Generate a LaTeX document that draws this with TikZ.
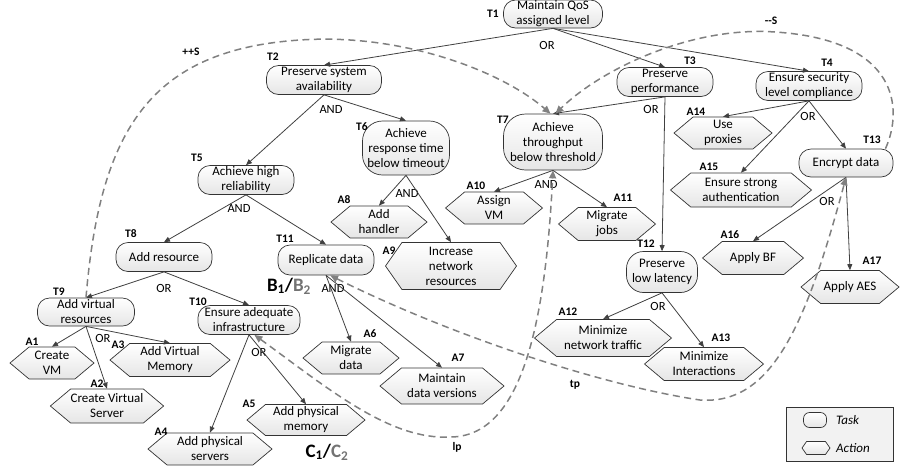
\documentclass[tikz,border=0pt]{standalone}
\usepackage{fontspec}
\setmainfont{Carlito}
\usepackage{xcolor}
\usetikzlibrary{shapes.symbols,arrows.meta}

\begin{document}
\begin{tikzpicture}[x=1pt,y=1pt]
	\tikzstyle{every node}+=[inner sep=0pt]
	\tikzstyle{task}=[draw=black!80,line width=0.7pt,rectangle,rounded corners=12pt,top color=white,bottom color=black!10,align=center,font=\fontsize{13}{15}\selectfont]
	\tikzstyle{act}=[draw=black!80,line width=0.7pt,signal,signal to=east and west,signal pointer angle=80,top color=white,bottom color=black!10,align=center,font=\fontsize{13}{15}\selectfont]
	\tikzstyle{lbl}=[font=\fontsize{11.5}{11.5}\selectfont\bfseries]
	\tikzstyle{op}=[font=\fontsize{12.5}{12.5}\selectfont]
	\tikzstyle{dec}=[draw=black!75,line width=0.8pt,>={Triangle[length=6pt,width=5pt]}]
	\tikzstyle{infl}=[draw=black!50,line width=1.5pt,dash pattern=on 7pt off 4.5pt,>={Triangle[length=8pt,width=7pt]}]
	\useasboundingbox (0,0) rectangle (901,-467);
	\node[task,minimum width=99,minimum height=28] (t1) at (553,-14) {Maintain QoS\\assigned level};
	\node[task,minimum width=115,minimum height=29] (t2) at (324,-80) {Preserve system\\availability};
	\node[task,minimum width=96,minimum height=29] (t3) at (665,-82) {Preserve\\performance};
	\node[task,minimum width=106,minimum height=29] (t4) at (809,-86) {Ensure security\\level compliance};
	\node[task,minimum width=96,minimum height=29] (t5) at (246,-180) {Achieve high\\reliability};
	\node[task,minimum width=87,minimum height=54,rounded corners=20pt] (t6) at (406,-148) {Achieve\\response time\\below timeout};
	\node[task,minimum width=99,minimum height=56,rounded corners=22pt] (t7) at (553,-142) {Achieve\\throughput\\below threshold};
	\node[task,minimum width=96,minimum height=29] (t8) at (164,-257) {Add resource};
	\node[task,minimum width=97,minimum height=28] (t9) at (86,-312) {Add virtual\\resources};
	\node[task,minimum width=102,minimum height=29] (t10) at (249,-320) {Ensure adequate\\infrastructure};
	\node[task,minimum width=96,minimum height=30] (t11) at (326,-260) {Replicate data};
	\node[task,minimum width=71,minimum height=41,rounded corners=17pt] (t12) at (662,-272) {Preserve\\low latency};
	\node[task,minimum width=94,minimum height=28] (t13) at (846,-163) {Encrypt data};
	\node[act,minimum width=84,minimum height=32] (a1) at (52,-363) {Create\\VM};
	\node[act,minimum width=110,minimum height=34] (a2) at (107,-406) {Create Virtual\\Server};
	\node[act,minimum width=120,minimum height=33] (a3) at (170,-360) {Add Virtual\\Memory};
	\node[act,minimum width=124,minimum height=32] (a4) at (210,-449) {Add physical\\servers};
	\node[act,minimum width=118,minimum height=31] (a5) at (306,-420) {Add physical\\memory};
	\node[act,minimum width=96,minimum height=32] (a6) at (351,-358) {Migrate\\data};
	\node[act,minimum width=124,minimum height=36] (a7) at (442,-386) {Maintain\\data versions};
	\node[act,minimum width=96,minimum height=32] (a8) at (379,-222) {Add\\handler};
	\node[act,minimum width=131,minimum height=47,signal pointer angle=110] (a9) at (451,-266) {Increase\\network\\resources};
	\node[act,minimum width=97,minimum height=32] (a10) at (494,-208) {Assign\\VM};
	\node[act,minimum width=97,minimum height=33] (a11) at (607,-224) {Migrate\\jobs};
	\node[act,minimum width=137,minimum height=37] (a12) at (603,-338) {Minimize\\network traffic};
	\node[act,minimum width=119,minimum height=33] (a13) at (704,-364) {Minimize\\Interactions};
	\node[act,minimum width=98,minimum height=32] (a14) at (723,-133) {Use\\proxies};
	\node[act,minimum width=141,minimum height=34] (a15) at (741,-190) {Ensure strong\\authentication};
	\node[act,minimum width=101,minimum height=33] (a16) at (753,-258) {Apply BF};
	\node[act,minimum width=98,minimum height=33] (a17) at (850,-287) {Apply AES};
	\node[lbl] (lt1) at (493,-14) {T1};
	\node[lbl] (lt2) at (273,-57) {T2};
	\node[lbl] (lt3) at (690,-61) {T3};
	\node[lbl] (lt4) at (827,-63) {T4};
	\node[lbl] (lt5) at (197,-158) {T5};
	\node[lbl] (lt6) at (362,-127) {T6};
	\node[lbl] (lt7) at (503,-120) {T7};
	\node[lbl] (lt8) at (131,-234) {T8};
	\node[lbl] (lt9) at (59,-292) {T9};
	\node[lbl] (lt10) at (198,-302) {T10};
	\node[lbl] (lt11) at (285,-239) {T11};
	\node[lbl] (lt12) at (646,-244) {T12};
	\node[lbl] (lt13) at (872,-140) {T13};
	\node[lbl] (la1) at (32,-342) {A1};
	\node[lbl] (la2) at (97,-384) {A2};
	\node[lbl] (la3) at (118,-345) {A3};
	\node[lbl] (la4) at (161,-432) {A4};
	\node[lbl] (la5) at (249,-404) {A5};
	\node[lbl] (la6) at (370,-334) {A6};
	\node[lbl] (la7) at (458,-358) {A7};
	\node[lbl] (la8) at (344,-200) {A8};
	\node[lbl] (la9) at (389,-251) {A9};
	\node[lbl] (la10) at (476,-186) {A10};
	\node[lbl] (la11) at (623,-198) {A11};
	\node[lbl] (la12) at (568,-312) {A12};
	\node[lbl] (la13) at (721,-338) {A13};
	\node[lbl] (la14) at (696,-112) {A14};
	\node[lbl] (la15) at (709,-167) {A15};
	\node[lbl] (la16) at (730,-235) {A16};
	\node[lbl] (la17) at (872,-261) {A17};
	\node[op] (o1) at (547,-45) {OR};
	\node[op] (o2) at (331,-109) {AND};
	\node[op] (o3) at (651,-109) {OR};
	\node[op] (o4) at (808,-116) {OR};
	\node[op] (o5) at (239,-208) {AND};
	\node[op] (o6) at (407,-193) {AND};
	\node[op] (o7) at (546,-184) {AND};
	\node[op] (o8) at (164,-288) {OR};
	\node[op] (o9) at (103,-338) {OR};
	\node[op] (o10) at (259,-352) {OR};
	\node[op] (o11) at (333,-288) {AND};
	\node[op] (o12) at (658,-306) {OR};
	\node[op] (o13) at (827,-201) {OR};
	\draw[dec,->] (t1.south) -- (t2.north);
	\draw[dec,->] (t1.south) -- (t3.north);
	\draw[dec,->] (t1.south) -- (t4.north);
	\draw[dec,->] (t2.south) -- (t5.north);
	\draw[dec,->] (t2.south) -- (t6.north);
	\draw[dec,->] (t3.south) -- (t7.north);
	\draw[dec,->] (t3.south) -- (t12.north);
	\draw[dec,->] (t4.south) -- (a14.north);
	\draw[dec,->] (t4.south) -- (a15.north);
	\draw[dec,->] (t4.south) -- (t13.north);
	\draw[dec,->] (t5.south) -- (t8.north);
	\draw[dec,->] (t5.south) -- (t11.north);
	\draw[dec,->] (t6.south) -- (a8.north);
	\draw[dec,->] (t6.south) -- (a9.north);
	\draw[dec,->] (t7.south) -- (a10.north);
	\draw[dec,->] (t7.south) -- (a11.north);
	\draw[dec,->] (t8.south) -- (t9.north);
	\draw[dec,->] (t8.south) -- (t10.north);
	\draw[dec,->] (t9.south) -- (a1.north);
	\draw[dec,->] (t9.south) -- (a2.north);
	\draw[dec,->] (t9.south) -- (a3.north);
	\draw[dec,->] (t10.south) -- (a4.north);
	\draw[dec,->] (t10.south) -- (a5.north);
	\draw[dec,->] (t11.south) -- (a6.north);
	\draw[dec,->] (t11.south) -- (a7.north);
	\draw[dec,->] (t12.south) -- (a12.north);
	\draw[dec,->] (t12.south) -- (a13.north);
	\draw[dec,->] (t13.south) -- (a16.north);
	\draw[dec,->] (t13.south) -- (a17.north);
	\draw[infl,->] (t9.north) .. controls (100,-130) and (150,-50) .. (300,-40) .. controls (400,-33) and (500,-70) .. (t7.95);
	\draw[infl,->] (t13.20) .. controls (903,-110) and (900,-40) .. (775,-32) .. controls (690,-26) and (600,-70) .. (t7.85);
	\draw[infl,<->] (t10.-70) .. controls (330,-390) and (390,-440) .. (450,-437) .. controls (520,-437) and (545,-330) .. (t7.south);
	\draw[infl,<->] (t11.-75) .. controls (450,-335) and (600,-385) .. (700,-400) .. controls (770,-405) and (805,-330) .. (t13.south);
	\node[lbl] (lps) at (191,-52) {++S};
	\node[lbl] (lms) at (771,-21) {-{}-S};
	\node[lbl] (llp) at (457,-447) {lp};
	\node[lbl] (ltp) at (575,-385) {tp};
	\node[font=\fontsize{19}{19}\selectfont\bfseries] (bb) at (289,-286) {B\textsubscript{1}/\textcolor{black!55}{B\textsubscript{2}}};
	\node[font=\fontsize{19}{19}\selectfont\bfseries] (cc) at (327,-452) {C\textsubscript{1}/\textcolor{black!55}{C\textsubscript{2}}};
	\node[draw=black!80,fill=black!5,line width=0.7pt,minimum width=107,minimum height=54] (lg) at (839.5,-434) {};
	\node[task,minimum width=23,minimum height=15,rounded corners=6pt] (lgt) at (815,-420) {};
	\node[font=\fontsize{13}{13}\selectfont\itshape,anchor=west] (lgtt) at (836,-420) {Task};
	\node[act,minimum width=28,minimum height=13,signal pointer angle=110] (lga) at (816,-448) {};
	\node[font=\fontsize{13}{13}\selectfont\itshape,anchor=west] (lgat) at (836,-448) {Action};
\end{tikzpicture}
\end{document}
